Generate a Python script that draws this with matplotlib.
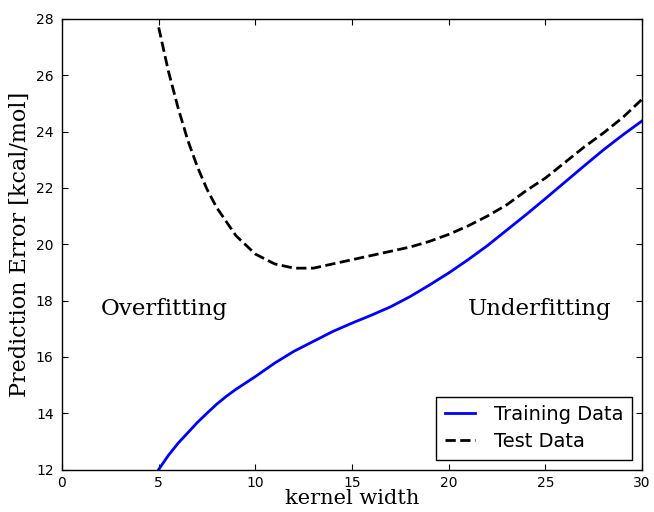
import matplotlib
matplotlib.use("Agg")
import matplotlib.pyplot as plt

# kernel width sample positions
kernel_width = [5, 5.5, 6, 6.5, 7, 7.5, 8, 8.5, 9, 10, 11, 12, 13, 14, 15, 16, 17,
                18, 19, 20, 21, 22, 23, 24, 25, 26, 27, 28, 29, 30]
training_error = [12.0, 12.5, 12.93, 13.3, 13.67, 14.0, 14.32, 14.6, 14.85, 15.3, 15.78,
                  16.2, 16.55, 16.9, 17.2, 17.48, 17.78, 18.14, 18.55, 18.98, 19.45,
                  19.95, 20.5, 21.05, 21.62, 22.2, 22.78, 23.35, 23.88, 24.38]
test_error = [27.7, 26.15, 24.85, 23.7, 22.75, 21.95, 21.3, 20.8, 20.3, 19.65, 19.3,
              19.15, 19.15, 19.3, 19.45, 19.6, 19.75, 19.9, 20.1, 20.35, 20.65, 21.0,
              21.4, 21.9, 22.35, 22.9, 23.45, 23.95, 24.5, 25.15]

x_ticks = [0, 5, 10, 15, 20, 25, 30]
y_ticks = [12, 14, 16, 18, 20, 22, 24, 26, 28]

fig = plt.figure(figsize=(6.54, 5.12), dpi=100)
ax = fig.add_axes([0.0948, 0.083, 0.887, 0.880])

ax.plot(kernel_width, training_error, color="b", lw=2, label="Training Data")
ax.plot(kernel_width, test_error, color="k", lw=2, ls="--", label="Test Data")

ax.set_xlim(0, 30)
ax.set_ylim(12, 28)
ax.set_xticks(x_ticks)
ax.set_yticks(y_ticks)
ax.tick_params(direction="in", top=True, right=True, length=4, width=0.8,
               labelsize=10, pad=6)
ax.tick_params(axis="x", pad=5)
for s in ax.spines.values():
    s.set_linewidth(1.0)

ax.set_xlabel("kernel width", family="DejaVu Serif", fontsize=15, labelpad=-1.0)
ax.set_ylabel("Prediction Error [kcal/mol]", family="DejaVu Serif", fontsize=16, labelpad=4)

ax.text(2, 17.5, "Overfitting", family="DejaVu Serif", fontsize=16.5)
ax.text(21, 17.5, "Underfitting", family="DejaVu Serif", fontsize=16.5)

leg = ax.legend(loc="lower right", fontsize=14, fancybox=False, framealpha=1,
                edgecolor="k", handlelength=1.55, handletextpad=1.0,
                borderpad=0.45, labelspacing=0.4, borderaxespad=0.5)
leg.get_frame().set_linewidth(1.0)

fig.savefig("out.png", dpi=100)
